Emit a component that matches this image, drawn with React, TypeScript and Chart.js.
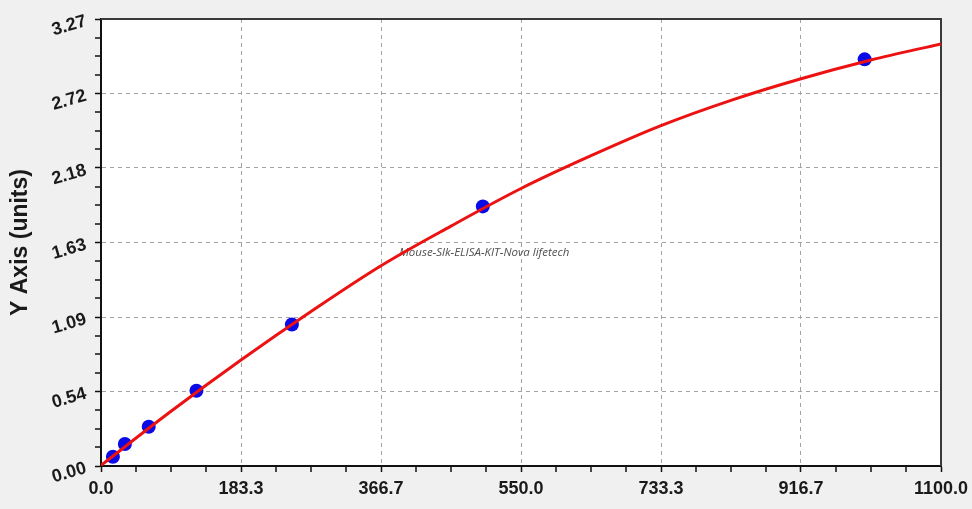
import { useEffect, useRef } from 'react';
import { Chart, registerables } from 'chart.js';

Chart.register(...registerables);

const X_MAX = 1100;
const Y_MAX = 3.27;
const X_TICK_LABELS = ['0.0', '183.3', '366.7', '550.0', '733.3', '916.7', '1100.0'];
const Y_TICK_LABELS = ['0.00', '0.54', '1.09', '1.63', '2.18', '2.72', '3.27'];
const MINOR = 4; // sub-intervals between labelled ticks

// standards: concentration / OD
const STD_CONC = [15.6, 31.25, 62.5, 125, 250, 500, 1000];
const STD_OD = [0.068, 0.161, 0.287, 0.55, 1.035, 1.899, 2.975];

// fitted curve
const CURVE_X = [0, 91.7, 183.3, 275, 366.7, 458.3, 550, 641.7, 733.3, 825, 916.7, 1008.3, 1100];
const CURVE_Y = [0.005, 0.4, 0.775, 1.13, 1.465, 1.755, 2.03, 2.27, 2.49, 2.675, 2.833, 2.97, 3.088];

const WATERMARK = 'Mouse-Slk-ELISA-KIT-Nova lifetech';

const LABEL_FONT = 'bold 18px "Liberation Sans", Arial, sans-serif';

const tickList = (max: number, labels: string[]) => {
  const n = (labels.length - 1) * MINOR;
  return Array.from({ length: n + 1 }, (_, i) => ({ value: (i * max) / n }));
};

const framePlugin = {
  id: 'frame',
  beforeDraw(chart: any) {
    const { ctx, chartArea: a } = chart;
    ctx.save();
    ctx.fillStyle = '#f0f0f0';
    ctx.fillRect(0, 0, chart.width, chart.height);
    ctx.fillStyle = '#ffffff';
    ctx.fillRect(a.left, a.top, a.right - a.left, a.bottom - a.top);
    ctx.restore();
  },
  beforeDatasetsDraw(chart: any) {
    const { ctx, chartArea: a } = chart;
    ctx.save();
    // top + right frame
    ctx.strokeStyle = '#3a3a3a';
    ctx.lineWidth = 2;
    ctx.beginPath();
    ctx.moveTo(a.left, a.top);
    ctx.lineTo(a.right, a.top);
    ctx.lineTo(a.right, a.bottom);
    ctx.stroke();
    // watermark
    ctx.fillStyle = '#505050';
    ctx.font = 'italic 11.5px "Open Sans", sans-serif';
    ctx.textAlign = 'left';
    ctx.textBaseline = 'middle';
    ctx.fillText(WATERMARK, a.left + (a.right - a.left) * 0.355, a.top + (a.bottom - a.top) * 0.523);
    ctx.restore();
  },
  afterDraw(chart: any) {
    const { ctx } = chart;
    const y = chart.scales.y;
    ctx.save();
    ctx.font = LABEL_FONT;
    ctx.fillStyle = '#1a1a1a';
    ctx.textAlign = 'right';
    ctx.textBaseline = 'middle';
    Y_TICK_LABELS.forEach((label, i) => {
      const py = y.getPixelForValue((i * Y_MAX) / (Y_TICK_LABELS.length - 1));
      ctx.save();
      ctx.translate(86, py + 2);
      ctx.rotate((-16 * Math.PI) / 180);
      ctx.fillText(label, 0, 0);
      ctx.restore();
    });
    ctx.restore();
  },
};

const gridOpts = {
  lineWidth: (c: any) => (c.index % MINOR === 0 ? 1 : 0),
  color: '#a4a4a4',
  tickColor: '#111111',
  tickWidth: 1.5,
  tickLength: 6,
  tickBorderDash: [],
};

const StandardCurve = () => {
  const chartRef = useRef<HTMLCanvasElement>(null);

  useEffect(() => {
    document.body.style.margin = '0';
    const ctx = chartRef.current?.getContext('2d');
    if (!ctx) return;

    const chartInstance = new Chart(ctx, {
      type: 'line',
      data: {
        datasets: [
          {
            data: CURVE_X.map((x, i) => ({ x, y: CURVE_Y[i] })),
            borderColor: '#ec1212',
            borderWidth: 3,
            pointRadius: 0,
            cubicInterpolationMode: 'monotone',
            fill: false,
          },
          {
            data: STD_CONC.map((x, i) => ({ x, y: STD_OD[i] })),
            showLine: false,
            pointRadius: 7,
            pointBackgroundColor: '#0a0ae6',
            pointBorderColor: '#0a0ae6',
            pointBorderWidth: 0,
          },
        ],
      },
      options: {
        animation: false,
        responsive: true,
        maintainAspectRatio: false,
        layout: { padding: { top: 19, right: 31, left: 0, bottom: 0 } },
        plugins: { legend: { display: false }, tooltip: { enabled: false } },
        scales: {
          x: {
            type: 'linear',
            min: 0,
            max: X_MAX,
            afterBuildTicks: (s: any) => {
              s.ticks = tickList(X_MAX, X_TICK_LABELS);
            },
            afterFit: (s: any) => {
              s.height = 43;
            },
            grid: gridOpts,
            border: { color: '#111111', width: 2, dash: [4, 4] },
            ticks: {
              autoSkip: false,
              maxRotation: 0,
              padding: 2,
              color: '#1a1a1a',
              font: { family: '"Liberation Sans", Arial, sans-serif', size: 18, weight: 'bold', lineHeight: 1.65 },
              callback: (_v: any, i: number) => (i % MINOR === 0 ? X_TICK_LABELS[i / MINOR] : ''),
            },
          },
          y: {
            type: 'linear',
            min: 0,
            max: Y_MAX,
            afterBuildTicks: (s: any) => {
              s.ticks = tickList(Y_MAX, Y_TICK_LABELS);
            },
            afterFit: (s: any) => {
              s.width = 101;
            },
            grid: gridOpts,
            border: { color: '#111111', width: 2, dash: [4, 4] },
            ticks: { display: false },
            title: {
              display: true,
              text: 'Y Axis (units)',
              color: '#1a1a1a',
              padding: { top: 7, bottom: 0 },
              font: { family: '"Liberation Sans", Arial, sans-serif', size: 23, weight: 'bold' },
            },
          },
        },
      },
      plugins: [framePlugin],
    } as any);

    return () => chartInstance.destroy();
  }, []);

  return (
    <div style={{ position: 'relative', width: 972, height: 509, background: '#f0f0f0' }}>
      <canvas ref={chartRef} />
    </div>
  );
};

export default function App() {
  return <StandardCurve />;
}
